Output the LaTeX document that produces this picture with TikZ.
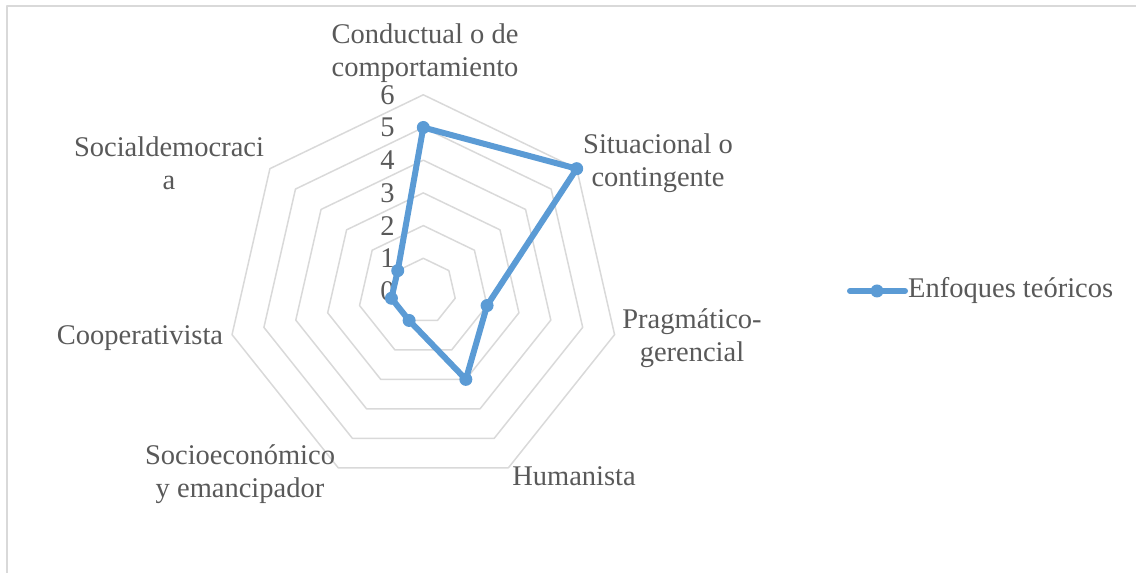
\documentclass[tikz,border=0pt]{standalone}
\usepackage{fontspec}
\setmainfont{Liberation Serif}
\usepackage{tikz}
\definecolor{serie}{HTML}{5B9BD5}
\definecolor{rejilla}{HTML}{D9D9D9}
\definecolor{texto}{HTML}{595959}
\tikzset{
  gridring/.style={draw=rejilla, line width=1.5pt, line join=round},
  serieline/.style={draw=serie, line width=6pt, line join=round, line cap=round},
  marker/.style={circle, fill=serie, inner sep=0pt, minimum size=13pt},
  ticklabel/.style={anchor=east, inner sep=0pt},
  catlabel/.style={align=center, inner sep=0pt}
}
\begin{document}
\begin{tikzpicture}[x=1pt, y=1pt, font=\fontsize{28.5}{33}\selectfont, text=texto]
  \useasboundingbox (0,0) rectangle (1136,573);
  \draw[gridring] (7,0) -- (7,567) -- (1136,567);
  \begin{scope}[shift={(423.3,282)}]
    \foreach \r in {1,...,6}
      \draw[gridring] (90:\r*32.7) \foreach \k in {1,...,6} { -- (90-\k*360/7:\r*32.7) } -- cycle;
    \foreach \v in {0,...,6}
      \node[ticklabel] (t\v) at (-28.5,\v*32.7) {\v};
    \foreach \k/\v in {0/5,1/6,2/2,3/3,4/1,5/1,6/1}
      \coordinate (p\k) at (90-\k*360/7:\v*32.7);
    \draw[serieline] (p0) -- (p1) -- (p2) -- (p3) -- (p4) -- (p5) -- (p6) -- cycle;
    \foreach \k in {0,...,6}
      \node[marker] at (p\k) {};
  \end{scope}
  \node[catlabel] (conductual) at (425,520) {Conductual o de\\comportamiento};
  \node[catlabel] (situacional) at (658,410) {Situacional o\\contingente};
  \node[catlabel] (pragmatico) at (692,235) {Pragmático-\\gerencial};
  \node[catlabel] (humanista) at (574,97) {Humanista};
  \node[catlabel] (socioeco) at (240,99) {Socioeconómico\\y emancipador};
  \node[catlabel] (cooperativista) at (140,235) {Cooperativista};
  \node[catlabel] (socialdem) at (169,410) {Socialdemocraci\\a};
  \coordinate (leyA) at (850,282);
  \coordinate (leyB) at (905,282);
  \draw[serieline] (leyA) -- (leyB);
  \node[marker] (leyM) at (877,282) {};
  \node[anchor=west, inner sep=0pt] (leyenda) at (908,282) {Enfoques teóricos};
\end{tikzpicture}
\end{document}
